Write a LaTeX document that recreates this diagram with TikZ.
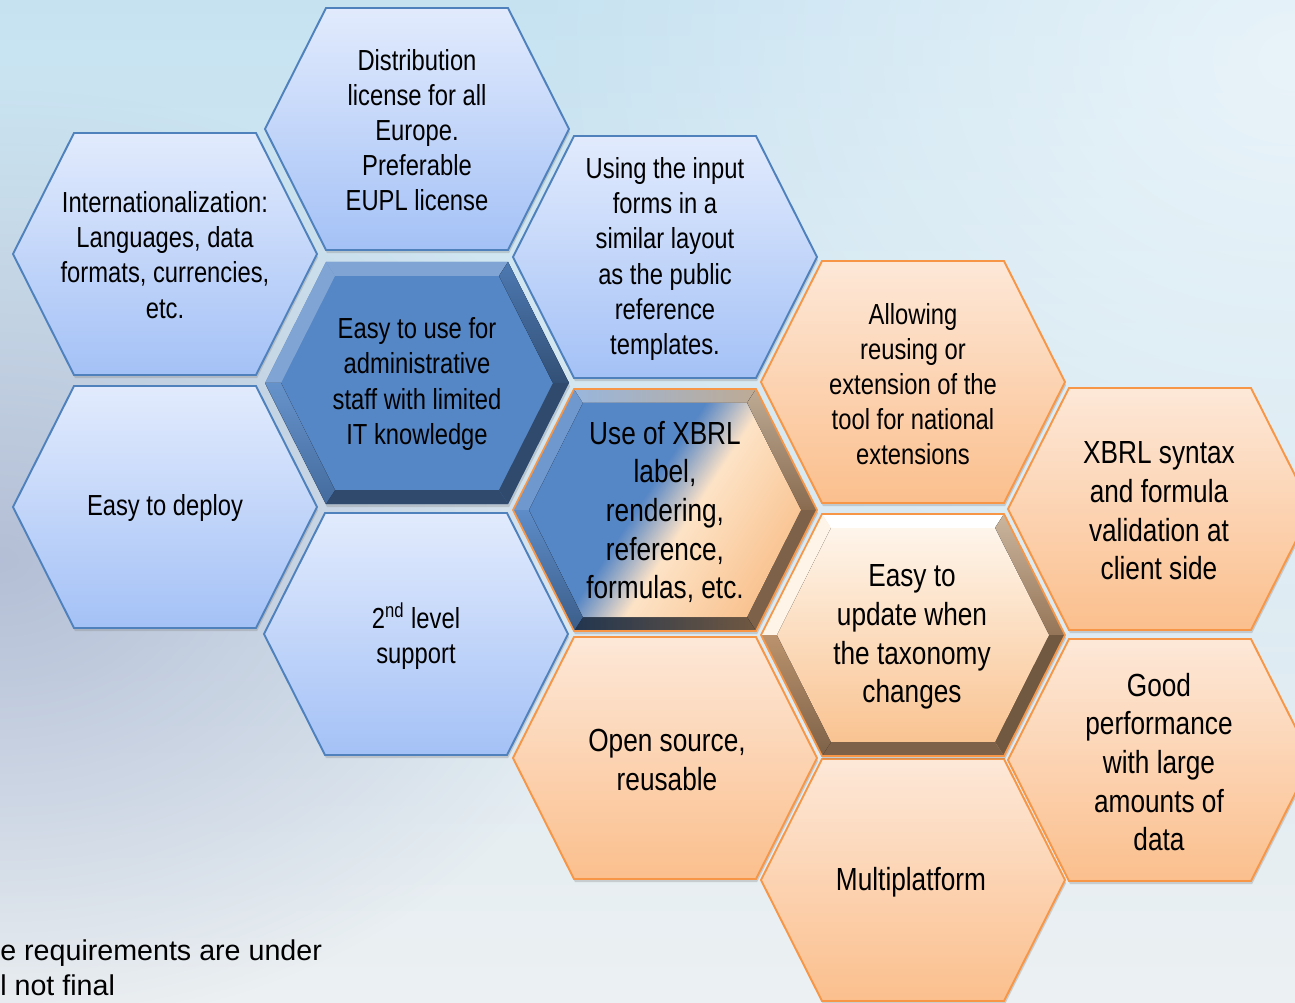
\documentclass[tikz,border=0pt]{standalone}
\usepackage{fontspec}
\setmainfont{Liberation Sans}[FakeStretch=0.82]
\newfontfamily\widesans{Liberation Sans}
\usetikzlibrary{shadows,fadings}

\definecolor{bluetop}{HTML}{E2EBFD}
\definecolor{bluebot}{HTML}{A4C1F6}
\definecolor{blueline}{HTML}{4F81BD}
\definecolor{orangetop}{HTML}{FDE8D8}
\definecolor{orangebot}{HTML}{FBBF8D}
\definecolor{orangeline}{HTML}{F79646}
\definecolor{deepblue}{HTML}{5586C5}
\definecolor{peachlt}{HTML}{FDE3C6}
\definecolor{peachdk}{HTML}{F9C391}
\definecolor{bgtop}{HTML}{C6E2F1}
\definecolor{bgbot}{HTML}{ECF0F2}
\definecolor{bgleft}{HTML}{ADB7D1}

\pgfdeclarehorizontalshading{xbrlface}{100bp}{color(0bp)=(deepblue); color(25bp)=(deepblue); color(45bp)=(deepblue); color(55bp)=(peachlt); color(75bp)=(peachdk); color(100bp)=(peachdk)}
\tikzfading[name=softspot, inner color=transparent!0, outer color=transparent!100]

% hexagon outline and its bevel, in pixel units round the centre
\newcommand{\hexpath}{(-152,0) -- (-91,-121) -- (91,-121) -- (152,0) -- (91,121) -- (-91,121) -- cycle}
\newcommand{\bevel}[6]{%
  \fill[#1] (-152,0) -- (-91,-121) -- (-82,-107) -- (-136,0) -- cycle;
  \fill[#2] (-91,-121) -- (91,-121) -- (82,-107) -- (-82,-107) -- cycle;
  \fill[#3] (91,-121) -- (152,0) -- (136,0) -- (82,-107) -- cycle;
  \fill[#4] (152,0) -- (91,121) -- (82,107) -- (136,0) -- cycle;
  \fill[#5] (91,121) -- (-91,121) -- (-82,107) -- (82,107) -- cycle;
  \fill[#6] (-91,121) -- (-152,0) -- (-136,0) -- (-82,107) -- cycle;}
\newcommand{\innerhex}{(-136,0) -- (-82,-107) -- (82,-107) -- (136,0) -- (82,107) -- (-82,107) -- cycle}

\tikzset{
  hexshadow/.style={drop shadow={shadow xshift=0.6pt, shadow yshift=-1.8pt, opacity=0.3}},
  lighthex/.style={draw=blueline, line width=1.1pt, top color=bluetop, bottom color=bluebot, hexshadow},
  peachhex/.style={draw=orangeline, line width=1.1pt, top color=orangetop, bottom color=orangebot, hexshadow},
  hextext/.style={align=center, font=\fontsize{16.5}{20}\selectfont},
  bigtext/.style={align=center, font=\fontsize{18.2}{22}\selectfont},
  notetext/.style={anchor=base west, inner sep=0pt, font=\widesans\fontsize{16.3}{20}\selectfont}
}

\begin{document}
\begin{tikzpicture}[x=0.02cm, y=-0.02cm]
\useasboundingbox (0,0) rectangle (1295,1003);
\clip (0,0) rectangle (1295,1003);
% background
\fill[top color=bgtop, bottom color=bgbot] (0,0) rectangle (1295,1003);
\fill[bgleft, opacity=0.85, path fading=softspot] (0,560) ellipse (620 and 470);
\fill[white, opacity=0.6, path fading=softspot] (1295,60) ellipse (760 and 620);

% plain cells
\foreach \cx/\cy in {417/129, 165/254, 165/507, 665/257, 416/634}
  \draw[lighthex, shift={(\cx,\cy)}] \hexpath;
\foreach \cx/\cy in {913/382, 1160/509, 1160/760, 665/758, 913/880}
  \draw[peachhex, shift={(\cx,\cy)}] \hexpath;

% bevelled cells
\begin{scope}[shift={(417,383)}]
  \fill[deepblue, hexshadow] \hexpath;
  \bevel{fill=deepblue!75!white}{fill=deepblue!75!white}{top color=deepblue!90!black, bottom color=deepblue!60!black}{fill=deepblue!55!black}{fill=deepblue!55!black}{top color=deepblue!90!white, bottom color=deepblue!80!black}
\end{scope}
\begin{scope}[shift={(665,510)}]
  \fill[deepblue, hexshadow] \hexpath;
  \bevel{fill=deepblue!85!white}{left color=deepblue!60!white, right color=black!25!peachlt}{top color=black!25!peachlt, bottom color=black!45!peachdk}{fill=black!50!peachdk}{left color=deepblue!40!black, right color=black!55!peachdk}{top color=deepblue!95!white, bottom color=deepblue!70!black}
  \fill[shading=xbrlface, shading angle=-33] \innerhex;
  \draw[orangeline, line width=1pt] \hexpath;
\end{scope}
\begin{scope}[shift={(913,635)}]
  \fill[peachdk, hexshadow] \hexpath;
  \bevel{fill=peachlt!40!white}{fill=white}{top color=black!20!peachlt, bottom color=black!40!peachdk}{fill=black!55!peachdk}{fill=black!50!peachdk}{top color=black!25!peachdk, bottom color=black!50!peachdk}
  \fill[top color=peachlt!35!white, bottom color=peachdk] \innerhex;
  \draw[orangeline, line width=1pt] \hexpath;
\end{scope}

% texts
\node[hextext] (distrib) at (417,130) {Distribution\\license for all\\Europe.\\Preferable\\EUPL license};
\node[hextext] (intl) at (165,255) {Internationalization:\\Languages, data\\formats, currencies,\\etc.};
\node[hextext] (deploy) at (165,508) {Easy to deploy};
\node[hextext] (forms) at (665,259) {Using the input\\forms in a\\similar layout\\as the public\\reference\\templates.};
\node[hextext] (admin) at (417,384) {Easy to use for\\administrative\\staff with limited\\IT knowledge};
\node[hextext] (support) at (416,636) {2\textsuperscript{nd} level\\support};
\node[bigtext] (xbrluse) at (665,512) {Use of XBRL\\label,\\rendering,\\reference,\\formulas, etc.};
\node[hextext] (extend) at (913,384) {Allowing\\reusing or\\extension of the\\tool for national\\extensions};
\node[bigtext] (syntax) at (1159,511) {XBRL syntax\\and formula\\validation at\\client side};
\node[bigtext] (update) at (912,637) {Easy to\\update when\\the taxonomy\\changes};
\node[bigtext] (perf) at (1159,762) {Good\\performance\\with large\\amounts of\\data};
\node[bigtext] (opensrc) at (667,760) {Open source,\\reusable};
\node[bigtext] (platform) at (911,882) {Multiplatform};

% note at the lower left edge
\node[notetext] (note1) at (0,960) {e requirements are under};
\node[notetext] (note2) at (0,995) {l not final};
\end{tikzpicture}
\end{document}
